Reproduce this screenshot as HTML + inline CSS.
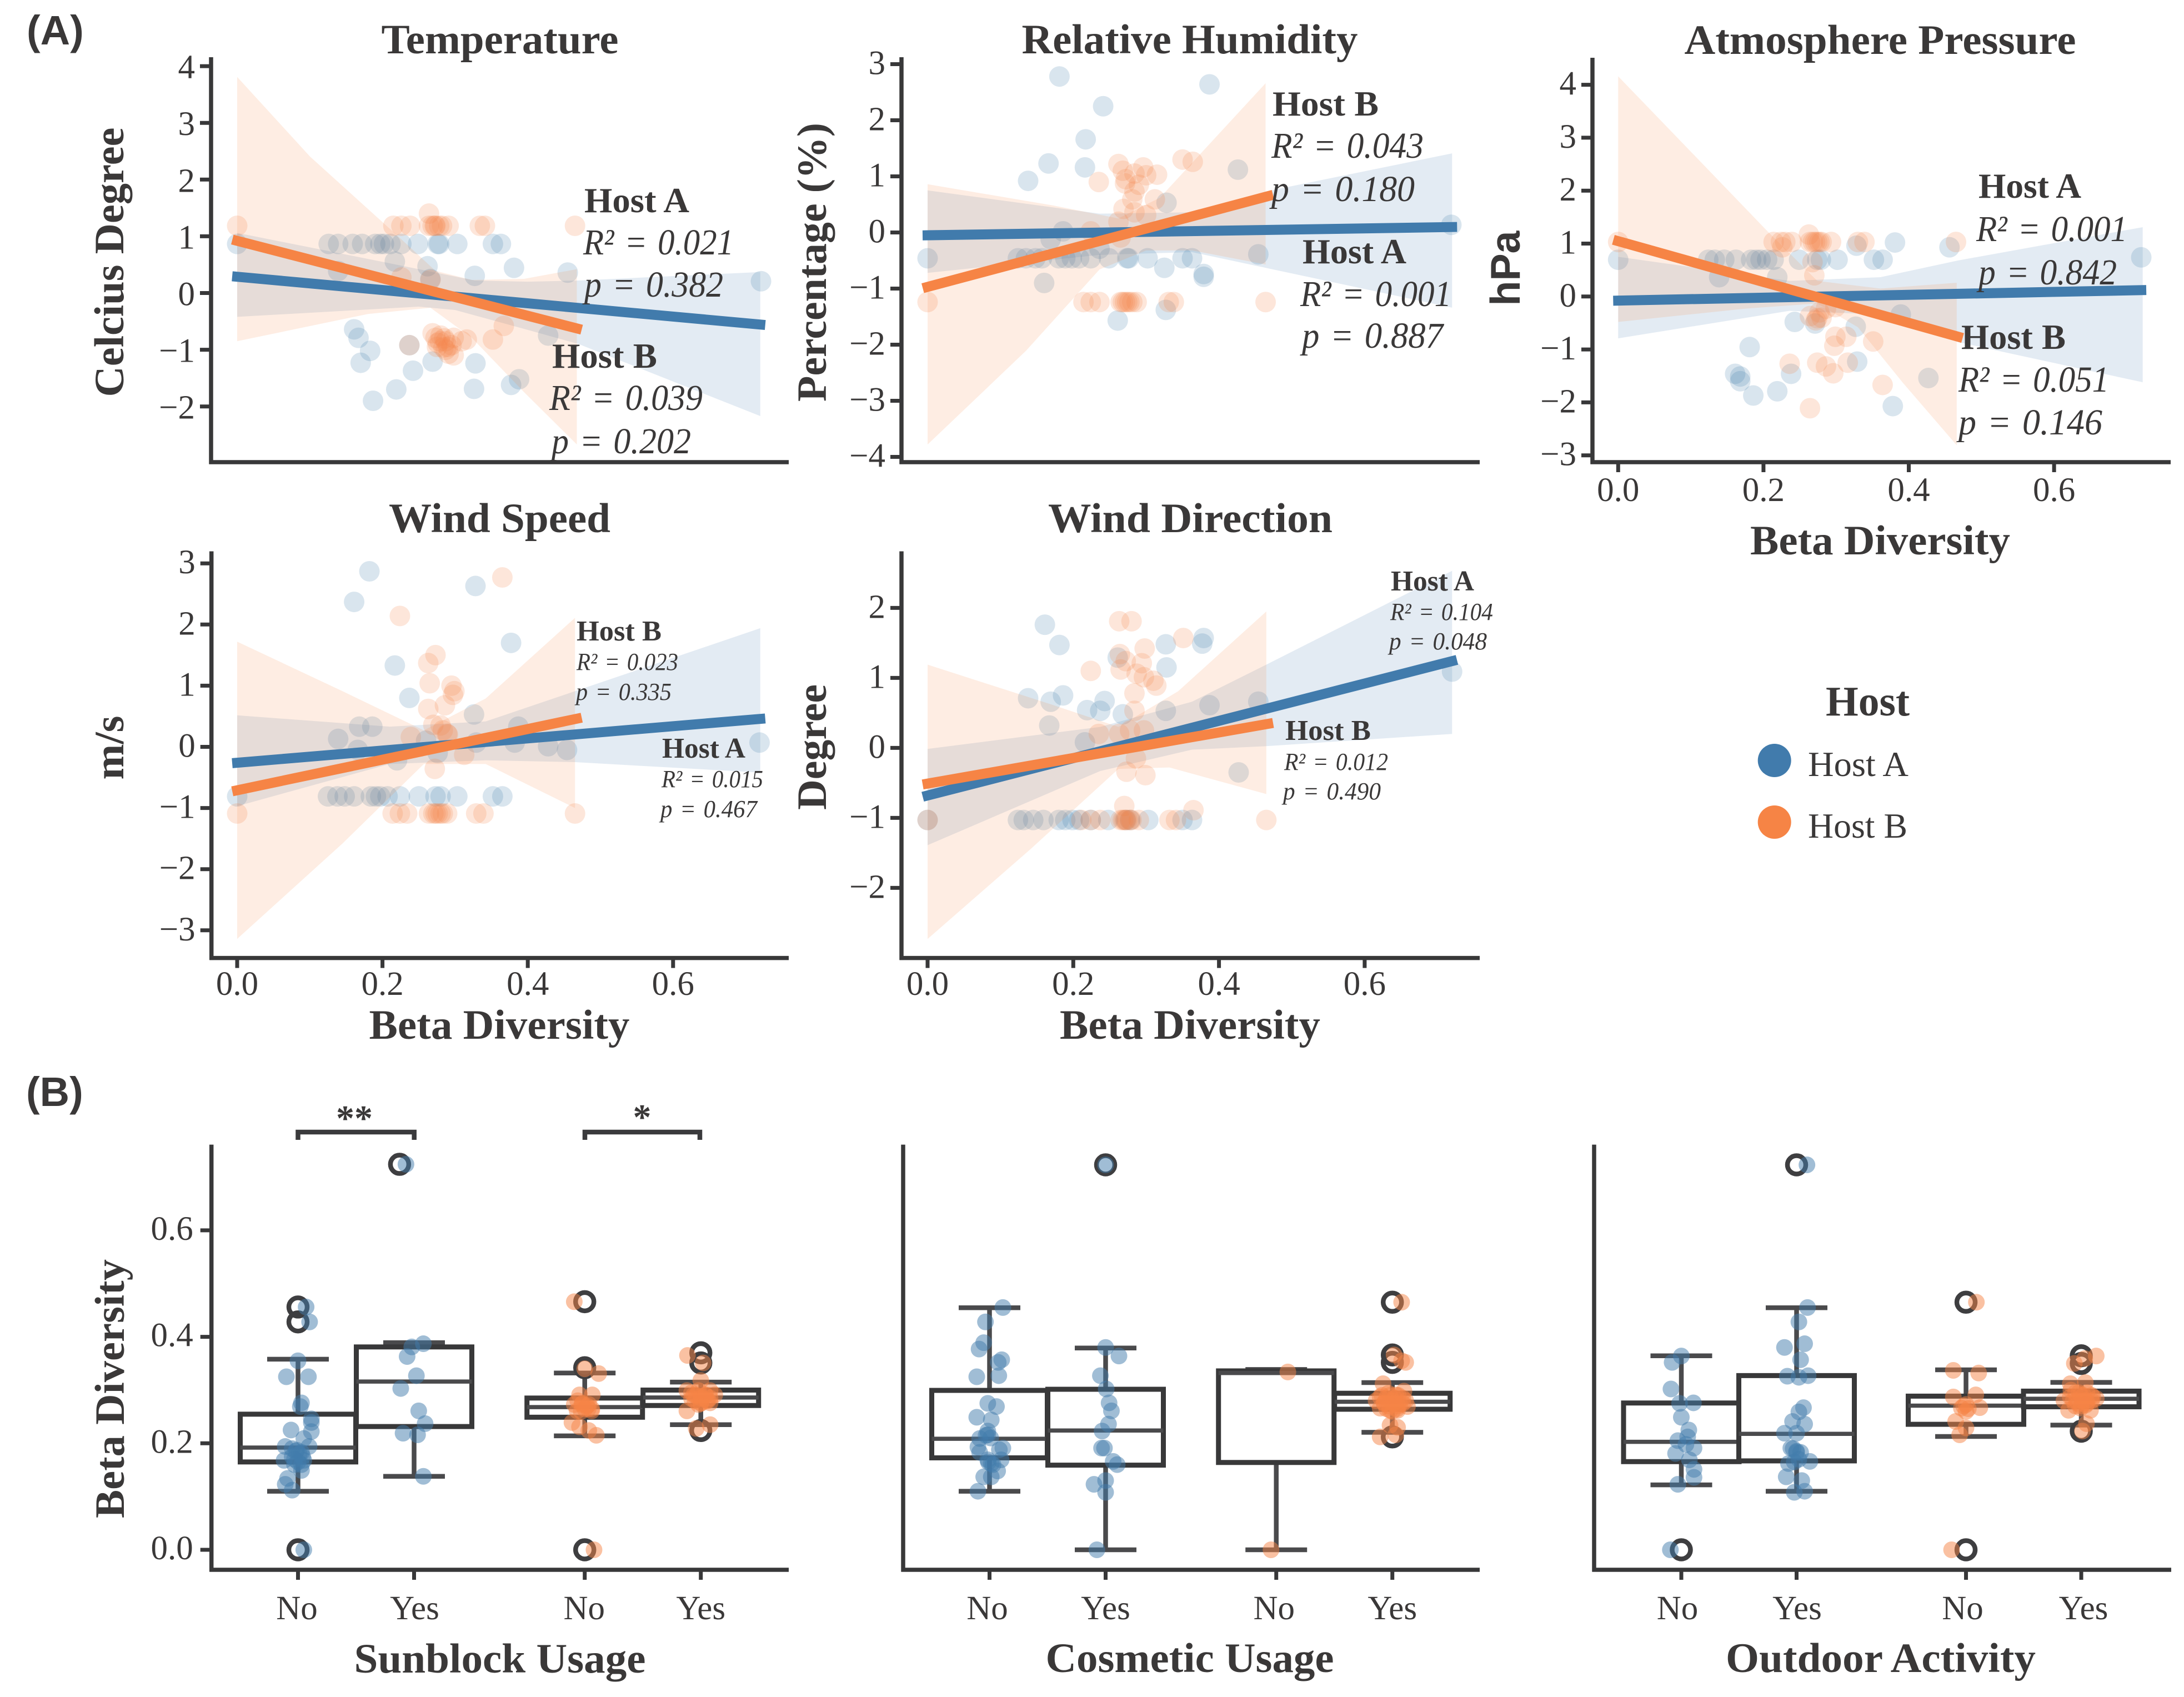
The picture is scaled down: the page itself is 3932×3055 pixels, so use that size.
<!DOCTYPE html>
<html lang="en">
<head>
<meta charset="utf-8">
<title>Beta diversity versus environment and host behaviour</title>
<style>
html,body{margin:0;padding:0;background:#fff;}
svg{display:block;font-family:"Liberation Serif",serif;}
text{fill:#3a3838;}
.title,.axlab{font-weight:700;font-size:75px;text-anchor:middle;}
.tick{font-size:61px;}
.host{font-weight:700;font-size:63px;}
.hosts{font-weight:700;font-size:52px;}
.ann{font-style:italic;font-size:66px;word-spacing:4px;}
.anns{font-style:italic;font-size:44px;word-spacing:3px;}
.panel-tag{font-family:"Liberation Sans",sans-serif;font-weight:700;font-size:74px;}
</style>
</head>
<body>
<svg id="fig" xmlns="http://www.w3.org/2000/svg" width="3932" height="3055" viewBox="0 0 3932 3055">
<rect width="3932" height="3055" fill="#fff"/>
<g id="plots"></g>

<text class="panel-tag" x="48" y="80">(A)</text>
<text class="panel-tag" x="47" y="1991">(B)</text>

<text class="title" x="900" y="96" textLength="427" lengthAdjust="spacingAndGlyphs">Temperature</text>
<text class="title" x="2142" y="96" textLength="605" lengthAdjust="spacingAndGlyphs">Relative Humidity</text>
<text class="title" x="3385" y="97" textLength="705" lengthAdjust="spacingAndGlyphs">Atmosphere Pressure</text>
<text class="title" x="899.5" y="958" textLength="399" lengthAdjust="spacingAndGlyphs">Wind Speed</text>
<text class="title" x="2143" y="958" textLength="512" lengthAdjust="spacingAndGlyphs">Wind Direction</text>

<text class="axlab" transform="translate(222,472) rotate(-90)" textLength="485" lengthAdjust="spacingAndGlyphs">Celcius Degree</text>
<text class="axlab" transform="translate(1487,472) rotate(-90)" textLength="502" lengthAdjust="spacingAndGlyphs">Percentage (%)</text>
<text class="axlab" style="font-family:'Liberation Sans',sans-serif" transform="translate(2736,483) rotate(-90)" textLength="135" lengthAdjust="spacingAndGlyphs">hPa</text>
<text class="axlab" transform="translate(222,1346) rotate(-90)" textLength="115" lengthAdjust="spacingAndGlyphs">m/s</text>
<text class="axlab" transform="translate(1487,1345) rotate(-90)" textLength="226" lengthAdjust="spacingAndGlyphs">Degree</text>
<text class="axlab" transform="translate(223,2500) rotate(-90)" textLength="466" lengthAdjust="spacingAndGlyphs">Beta Diversity</text>

<text class="axlab" x="3385" y="998" textLength="468" lengthAdjust="spacingAndGlyphs">Beta Diversity</text>
<text class="axlab" x="899" y="1870" textLength="469" lengthAdjust="spacingAndGlyphs">Beta Diversity</text>
<text class="axlab" x="2142.5" y="1870" textLength="469" lengthAdjust="spacingAndGlyphs">Beta Diversity</text>
<text class="axlab" x="900" y="3011" textLength="525" lengthAdjust="spacingAndGlyphs">Sunblock Usage</text>
<text class="axlab" x="2142" y="3010" textLength="519" lengthAdjust="spacingAndGlyphs">Cosmetic Usage</text>
<text class="axlab" x="3386" y="3010" textLength="558" lengthAdjust="spacingAndGlyphs">Outdoor Activity</text>

<g id="annotations">
<text class="host" x="1052" y="382" textLength="189" lengthAdjust="spacingAndGlyphs">Host A</text>
<text class="ann" x="1050" y="458" textLength="271" lengthAdjust="spacingAndGlyphs">R² = 0.021</text>
<text class="ann" x="1052" y="534" textLength="250" lengthAdjust="spacingAndGlyphs">p = 0.382</text>
<text class="host" x="994" y="662" textLength="189" lengthAdjust="spacingAndGlyphs">Host B</text>
<text class="ann" x="989" y="738" textLength="276" lengthAdjust="spacingAndGlyphs">R² = 0.039</text>
<text class="ann" x="993" y="816" textLength="251" lengthAdjust="spacingAndGlyphs">p = 0.202</text>

<text class="host" x="2291" y="208" textLength="191" lengthAdjust="spacingAndGlyphs">Host B</text>
<text class="ann" x="2289" y="284" textLength="274" lengthAdjust="spacingAndGlyphs">R² = 0.043</text>
<text class="ann" x="2289" y="362" textLength="258" lengthAdjust="spacingAndGlyphs">p = 0.180</text>
<text class="host" x="2345" y="474" textLength="187" lengthAdjust="spacingAndGlyphs">Host A</text>
<text class="ann" x="2341" y="551" textLength="272" lengthAdjust="spacingAndGlyphs">R² = 0.001</text>
<text class="ann" x="2344" y="626" textLength="254" lengthAdjust="spacingAndGlyphs">p = 0.887</text>

<text class="host" x="3562" y="356" textLength="185" lengthAdjust="spacingAndGlyphs">Host A</text>
<text class="ann" x="3558" y="434" textLength="272" lengthAdjust="spacingAndGlyphs">R² = 0.001</text>
<text class="ann" x="3562" y="512" textLength="249" lengthAdjust="spacingAndGlyphs">p = 0.842</text>
<text class="host" x="3531" y="628" textLength="188" lengthAdjust="spacingAndGlyphs">Host B</text>
<text class="ann" x="3526" y="705" textLength="271" lengthAdjust="spacingAndGlyphs">R² = 0.051</text>
<text class="ann" x="3526" y="782" textLength="259" lengthAdjust="spacingAndGlyphs">p = 0.146</text>

<text class="hosts" x="1038" y="1153" textLength="153" lengthAdjust="spacingAndGlyphs">Host B</text>
<text class="anns" x="1038" y="1206" textLength="183" lengthAdjust="spacingAndGlyphs">R² = 0.023</text>
<text class="anns" x="1037" y="1260" textLength="172" lengthAdjust="spacingAndGlyphs">p = 0.335</text>
<text class="hosts" x="1192" y="1364" textLength="150" lengthAdjust="spacingAndGlyphs">Host A</text>
<text class="anns" x="1191" y="1417" textLength="183" lengthAdjust="spacingAndGlyphs">R² = 0.015</text>
<text class="anns" x="1189" y="1471" textLength="174" lengthAdjust="spacingAndGlyphs">p = 0.467</text>

<text class="hosts" x="2504" y="1063" textLength="150" lengthAdjust="spacingAndGlyphs">Host A</text>
<text class="anns" x="2503" y="1116" textLength="185" lengthAdjust="spacingAndGlyphs">R² = 0.104</text>
<text class="anns" x="2501" y="1169" textLength="176" lengthAdjust="spacingAndGlyphs">p = 0.048</text>
<text class="hosts" x="2314" y="1332" textLength="154" lengthAdjust="spacingAndGlyphs">Host B</text>
<text class="anns" x="2312" y="1386" textLength="187" lengthAdjust="spacingAndGlyphs">R² = 0.012</text>
<text class="anns" x="2310" y="1439" textLength="176" lengthAdjust="spacingAndGlyphs">p = 0.490</text>
</g>

<g id="significance">
<path d="M536.5 2052V2038H745.7V2052" fill="none" stroke="#3a3a3c" stroke-width="8.5"/>
<path d="M1053 2052V2038H1260V2052" fill="none" stroke="#3a3a3c" stroke-width="8.5"/>
<text x="638" y="2035" font-size="66" font-weight="700" text-anchor="middle">**</text>
<text x="1156" y="2033" font-size="66" font-weight="700" text-anchor="middle">*</text>
</g>

<g id="legend">
<text x="3287" y="1288" font-size="76" font-weight="700" textLength="151" lengthAdjust="spacingAndGlyphs">Host</text>
<circle cx="3194.7" cy="1369" r="30" fill="#417bac"/>
<text x="3255" y="1397" font-size="64" textLength="181" lengthAdjust="spacingAndGlyphs">Host A</text>
<circle cx="3194.7" cy="1480" r="30" fill="#f68445"/>
<text x="3255" y="1508" font-size="64" textLength="179" lengthAdjust="spacingAndGlyphs">Host B</text>
</g>
</svg>

<script>
/* ---------- Panel A data ---------- */
const fitRangeA = [0, 0.72];
const fitRangeB = [0, 0.4675];

const tempTicks = [-2, -1, 0, 1, 2, 3, 4];
const tempAX = [0,.126,.139,.159,.172,.19,.197,.202,.211,.226,.249,.276,.278,.303,.352,.363,.217,.139,.262,.266,.327,.381,.455,.721,.161,.167,.183,.17,.269,.242,.328,.219,.187,.326,.377,.388,.428,.237];
const tempAY = [.865,.865,.865,.865,.865,.865,.865,.865,.865,.865,.865,.865,.865,.865,.865,.865,.556,.388,.472,.247,.303,.444,.36,.208,-.64,-.79,-1.02,-1.23,-1.21,-1.37,-1.24,-1.70,-1.9,-1.69,-1.62,-1.52,-.75,-.92];
const tempBX = [0,.215,.226,.238,.264,.269,.273,.278,.291,.334,.341,.465,.264,.226,.266,.269,.287,.273,.298,.309,.284,.291,.298,.316,.237,.352,.367,.276,.287,.28,.295,.272,.282,.279,.29,.285,.275];
const tempBY = [1.185,1.185,1.185,1.185,1.185,1.185,1.185,1.185,1.185,1.185,1.185,1.185,1.40,.275,.23,-.71,-.85,-.79,-.79,-.85,-.96,-1.07,-1.10,-.82,-.92,-.82,-.58,-.88,-1.0,-.75,-.92,1.185,1.185,-.85,-.95,-.8,-.95];
const tempFitA = [.287, -.556];
const tempFitB = [.92, -.624];
const tempAHiX = [0,.2,.327,.4,.47,.72];
const tempAHiY = [1.06,.55,.22,.2,.22,.37];
const tempALoX = [0,.25,.3,.4,.47,.72];
const tempALoY = [-.42,-.24,-.3,-.65,-.9,-2.17];
const tempBHiX = [0,.1,.219,.273,.323,.395,.4675];
const tempBHiY = [3.81,2.41,1.03,.39,.23,.25,.42];
const tempBLoX = [0,.18,.266,.323,.395,.4675];
const tempBLoY = [-.85,-.37,-.26,-.79,-1.75,-2.67];

const humTicks = [-4, -3, -2, -1, 0, 1, 2, 3];
const humAX = [0,.124,.135,.148,.157,.18,.189,.198,.208,.224,.249,.274,.276,.302,.35,.363,.181,.241,.387,.217,.166,.216,.138,.426,.328,.186,.169,.236,.454,.719,.325,.379,.379,.16,.327,.261];
const humAY = [-.46,-.46,-.46,-.46,-.46,-.46,-.46,-.46,-.46,-.46,-.46,-.46,-.46,-.46,-.46,-.46,2.78,2.25,2.64,1.66,1.23,1.16,.92,1.12,.53,.02,-.12,-.29,-.39,.136,-.63,-.74,-.79,-.9,-1.38,-1.57];
const humBX = [0,.214,.224,.236,.265,.271,.277,.287,.331,.338,.464,.262,.268,.296,.30,.315,.35,.364,.235,.271,.284,.281,.312,.269,.284,.30,.262,.224,.265,.284,.268,.274,.281,.272,.29];
const humBY = [-1.24,-1.24,-1.24,-1.24,-1.24,-1.24,-1.24,-1.24,-1.24,-1.24,-1.24,1.22,1.10,1.16,1.02,1.03,1.30,1.26,.90,.875,.73,.59,.59,.42,.36,.31,.19,.02,-.09,1.05,-1.24,-1.24,-1.24,.95,.85];
const humFitA = [-.05, .097];
const humFitB = [-.97, .648];
const humAHiX = [0,.236,.363,.464,.72];
const humAHiY = [.75,.335,.36,.73,1.41];
const humALoX = [0,.236,.363,.464,.72];
const humALoY = [-.72,-.40,-.35,-.63,-1.34];
const humBHiX = [0,.173,.262,.319,.464];
const humBHiY = [.86,.48,.25,.62,2.66];
const humBLoX = [0,.135,.236,.30,.363,.464];
const humBLoY = [-3.78,-2.11,-.66,-.32,-.32,-.57];

const presTicks = [-3, -2, -1, 0, 1, 2, 3, 4];
const presAX = [0,.124,.133,.146,.162,.183,.19,.196,.205,.214,.249,.274,.279,.302,.352,.364,.328,.381,.456,.72,.219,.139,.243,.389,.327,.271,.181,.329,.238,.161,.168,.168,.186,.219,.427,.378];
const presAY = [.695,.695,.695,.695,.695,.695,.695,.695,.695,.695,.695,.695,.695,.695,.695,.695,.96,1.02,.93,.74,.365,.365,-.48,-.34,-.57,-.51,-.955,-1.23,-1.46,-1.46,-1.51,-1.6,-1.87,-1.79,-1.54,-2.07];
const presBX = [0,.214,.224,.23,.239,.264,.271,.277,.293,.33,.339,.465,.2625,.226,.2675,.27,.264,.277,.274,.286,.299,.299,.314,.2975,.351,.236,.274,.286,.296,.316,.364,.264,.268,.274,.28,.28,.272];
const presBY = [1.03,1.03,1.03,1.03,1.03,1.03,1.03,1.03,1.03,1.03,1.03,1.03,1.17,.93,.65,.4,-.37,-.3,-.41,-.23,-.2,-.76,-.76,-.93,-.85,-1.27,-1.25,-1.32,-1.45,-1.25,-1.67,-2.11,1.03,1.03,1.03,-.4,-.45];
const presFitA = [-.077, .12];
const presFitB = [1.046, -.758];
const presAHiX = [0,.236,.361,.4675,.722];
const presAHiY = [.75,.295,.365,.68,1.31];
const presALoX = [0,.236,.361,.4675,.722];
const presALoY = [-.79,-.27,-.34,-.86,-1.62];
const presBHiX = [0,.111,.205,.274,.361,.466];
const presBHiY = [4.16,2.58,1.24,.295,.15,.26];
const presBLoX = [0,.174,.274,.33,.3925,.466];
const presBLoY = [-.48,-.23,-.13,-.58,-1.64,-2.81];

const speedTicks = [-3, -2, -1, 0, 1, 2, 3];
const speedAX = [0,.125,.138,.148,.161,.184,.191,.197,.207,.224,.25,.273,.28,.303,.352,.365,.182,.161,.328,.377,.217,.237,.326,.168,.186,.139,.166,.26,.387,.382,.329,.428,.454,.719,.22,.276];
const speedAY = [-.81,-.81,-.81,-.81,-.81,-.81,-.81,-.81,-.81,-.81,-.81,-.81,-.81,-.81,-.81,-.81,2.87,2.37,2.63,1.70,1.33,.80,.53,.33,.33,.13,-.05,.1,.33,.07,.07,.01,-.05,.07,-.22,-.1];
const speedBX = [0,.214,.224,.234,.264,.273,.28,.289,.329,.339,.465,.365,.224,.273,.263,.265,.295,.299,.297,.286,.263,.27,.283,.289,.239,.3125,.272,.276,.283,.27,.29,.28];
const speedBY = [-1.09,-1.09,-1.09,-1.09,-1.09,-1.09,-1.09,-1.09,-1.09,-1.09,-1.09,2.77,2.14,1.5,1.37,1.04,1.0,.91,.85,.68,.62,.36,.27,.21,.16,-.13,-.36,-1.09,-1.09,-1.09,.2,.35];
const speedFitA = [-.26, .457];
const speedFitB = [-.71, .46];
const speedAHiX = [0,.21,.342,.465,.72];
const speedAHiY = [.515,.33,.415,.91,1.94];
const speedALoX = [0,.21,.342,.465,.72];
const speedALoY = [-.97,-.28,-.22,-.25,-.42];
const speedBHiX = [0,.145,.257,.342,.465];
const speedBHiY = [1.72,.91,.27,.79,2.11];
const speedBLoX = [0,.145,.257,.342,.465];
const speedBLoY = [-3.14,-1.58,-.28,-.28,-1.0];

const dirTicks = [-2, -1, 0, 1, 2];
const dirAX = [0,.124,.132,.145,.159,.18,.189,.199,.208,.224,.248,.272,.278,.303,.35,.363,.161,.181,.379,.377,.327,.261,.328,.138,.169,.186,.243,.219,.237,.268,.327,.387,.454,.167,.216,.72,.427];
const dirAY = [-1.03,-1.03,-1.03,-1.03,-1.03,-1.03,-1.03,-1.03,-1.03,-1.03,-1.03,-1.03,-1.03,-1.03,-1.03,-1.03,1.76,1.47,1.57,1.49,1.48,1.29,1.15,.71,.66,.75,.67,.54,.53,.48,.53,.61,.66,.32,.08,1.09,-.35];
const dirBX = [0,.211,.224,.237,.265,.272,.278,.29,.332,.341,.465,.263,.28,.351,.298,.264,.224,.265,.272,.294,.287,.297,.314,.31,.284,.284,.235,.263,.278,.297,.286,.273,.299,.27,.365,.268,.274,.28,.27];
const dirBY = [-1.03,-1.03,-1.03,-1.03,-1.03,-1.03,-1.03,-1.03,-1.03,-1.03,-1.03,1.81,1.81,1.57,1.42,1.34,1.10,1.12,1.24,1.21,1.06,1.01,.89,.96,.78,.53,.2,.2,.25,.25,-.15,-.34,-.39,-.83,-.89,-1.03,-1.03,-1.03,-1.03];
const dirFitA = [-.68, 1.24];
const dirFitB = [-.51, .344];
const dirAHiX = [0,.237,.363,.465,.72];
const dirAHiY = [-.015,.3,.66,1.19,2.53];
const dirALoX = [0,.237,.363,.465,.72];
const dirALoY = [-1.39,-.33,-.025,.025,.2];
const dirBHiX = [0,.173,.262,.344,.465];
const dirBHiY = [1.19,.61,.3,.81,1.95];
const dirBLoX = [0,.142,.262,.332,.465];
const dirBLoY = [-2.73,-1.44,-.3,-.28,-.66];

const betaTicks = [0, 0.2, 0.4, 0.6];
const betaTickLabels = ['0.0', '0.2', '0.4', '0.6'];

/* ---------- Panel B data ---------- */
const boxCategories = ['No', 'Yes', 'No', 'Yes'];
const boxCategoryPos = [0, 1, 2.47, 3.47];

const sunQ1 = [.165,.2315,.249,.271];
const sunMed = [.192,.316,.268,.286];
const sunQ3 = [.2547,.381,.285,.30];
const sunLo = [.11,.138,.214,.235];
const sunHi = [.358,.389,.332,.315];
const sunOutliers = [[0,.428,.456],[.724],[0,.342,.466],[.224,.351,.37]];
const sunOutlierShift = [[0,0,0],[-.125],[0,0,0],[0,0,0]];
const sunJitter = [
 [0,-.10,.09,.03,.02,.115,.115,-.06,.115,.05,.095,-.11,-.01,-.05,.03,-.12,-.03,.05,.03,-.09,-.11,-.05,.07,.10,.05,-.05,-.02,.01,.04,-.03,0,.03],
 [.08,-.02,-.06,.02,-.115,.04,.095,-.095,.03,.08,-.07],
 [-.09,0,.12,.065,-.045,-.025,.035,-.09,0,-.065,.06,-.11,-.045,.035,.10,.08,-.06,-.02,.02,.06,-.03,.03],
 [-.115,.02,0,-.12,-.02,.08,0,.12,-.08,.06,0,-.12,-.02,.08,-.04,.08,-.06,.04,-.08,-.04,0,.04,.08,-.05,0,.05]
];
const sunPoints = [
 [.355,.325,.325,.276,.269,.246,.239,.225,.222,.209,.194,.194,.187,.175,.183,.168,.16,.168,.149,.134,.123,.112,.456,.428,0,.19,.185,.18,.175,.17,.165,.16],
 [.387,.381,.363,.327,.303,.261,.237,.219,.216,.138,.724],
 [.466,.34,.331,.291,.291,.273,.273,.273,.265,.261,.261,.239,.231,.224,.215,0,.28,.275,.27,.265,.26,.265],
 [.365,.351,.318,.299,.299,.299,.288,.291,.284,.28,.276,.261,.273,.235,.228,.276,.291,.291,.295,.29,.285,.29,.285,.28,.275,.28]
];

const cosQ1 = [.1727,.159,.164,.264];
const cosMed = [.2085,.224,.332,.278];
const cosQ3 = [.2994,.3015,.336,.294];
const cosLo = [.11,0,0,.2206];
const cosHi = [.4546,.379,.3387,.314];
const cosOutliers = [[],[.723],[],[.212,.352,.366,.465]];
const cosJitter = [
 [.115,-.035,-.05,-.09,.105,.075,-.11,.08,-.015,.06,-.11,.015,-.015,-.015,-.085,-.10,.115,.085,-.085,-.015,.015,.10,.07,.015,-.05,-.10,-.03,.01,-.01,.03],
 [0,0,.115,-.045,.005,.03,.05,.025,-.03,-.035,-.01,.065,.10,0,-.10,0,-.075],
 [.10,-.045],
 [.08,.015,.115,.08,-.08,.10,-.105,-.035,.03,.115,-.14,-.07,0,.065,.13,-.105,-.02,.045,.045,-.02,.03,-.105,-.09,-.05,-.02,.02,.05,.09,-.07,-.03,.01,.05,.09,-.05,0,.04]
];
const cosPoints = [
 [.455,.428,.389,.377,.357,.352,.325,.327,.275,.269,.249,.244,.223,.216,.209,.193,.191,.188,.183,.169,.162,.169,.148,.137,.137,.11,.215,.21,.165,.16],
 [.723,.38,.364,.327,.302,.276,.261,.236,.223,.191,.191,.166,.16,.13,.123,.108,0],
 [.334,0],
 [.465,.366,.352,.355,.312,.298,.287,.294,.291,.28,.28,.276,.28,.273,.269,.266,.262,.262,.23,.234,.216,.212,.29,.285,.29,.285,.29,.285,.275,.27,.275,.27,.275,.265,.26,.265]
];

const outQ1 = [.1656,.167,.2357,.2686];
const outMed = [.2028,.2178,.2707,.2836];
const outQ3 = [.2757,.3272,.2886,.298];
const outLo = [.122,.11,.2128,.2342];
const outHi = [.3644,.4546,.338,.3144];
const outOutliers = [[0],[.723],[0,.465],[.2228,.35,.3644]];
const outJitter = [
 [0,-.08,-.09,-.015,.105,0,.065,.055,-.03,.04,.11,-.05,.07,.11,.11,-.03,-.095],
 [.09,.095,.02,.07,-.105,.035,-.08,.10,.02,.06,.02,-.035,.07,-.105,0,-.05,0,.035,.115,-.07,-.09,.045,.07,-.02,-.03,0,.02,-.02],
 [.09,-.11,.11,-.11,.085,0,-.04,.12,-.09,0,-.055,-.125,-.02,.02,0],
 [.13,-.06,.03,-.095,.035,-.095,-.005,.10,-.15,-.04,.045,.13,-.11,-.005,.08,.01,.045,-.09,-.05,-.02,.02,.05,.09,-.07,-.03,.01,.05,.09,-.05,0,.04]
];
const outPoints = [
 [.364,.352,.302,.275,.276,.249,.225,.212,.205,.198,.191,.181,.169,.151,.136,.123,0],
 [.723,.455,.428,.387,.38,.357,.326,.327,.324,.267,.259,.241,.236,.219,.219,.191,.183,.183,.166,.162,.137,.13,.11,.108,.19,.185,.17,.165],
 [.465,.337,.332,.287,.291,.273,.266,.267,.241,.229,.216,0,.27,.265,.26],
 [.364,.35,.359,.312,.314,.287,.291,.287,.28,.28,.28,.284,.262,.266,.262,.223,.237,.30,.295,.295,.29,.295,.29,.28,.275,.28,.275,.28,.27,.27,.272]
];

/* ---------- Style and geometry (not data) ---------- */
const SVGNS = 'http://www.w3.org/2000/svg';
const INK = '#383839';
const WHISK = '#4a4a4c';
const BLUE = '#417bac';
const ORANGE = '#f68445';
const plots = document.getElementById('plots');

function make(tag, parent, attrs) {
  const el = document.createElementNS(SVGNS, tag);
  for (const k in attrs) el.setAttribute(k, attrs[k]);
  parent.appendChild(el);
  return el;
}
function fmtTick(v) {
  return (v < 0 ? '\u2212' : '') + Math.abs(v);
}

function drawAxes(g, p) {
  const left = make('line', g, {x1: p.left, x2: p.left, y1: p.top, y2: p.bottom + 3.5, stroke: INK, 'stroke-width': 7.5});
  
  
  const bottom = make('line', g, {x1: p.left - 3.5, x2: p.right, y1: p.bottom, y2: p.bottom, stroke: INK, 'stroke-width': 7.5});
  
  
}

function drawScatterGroup(g, p, xs, ys, hiX, hiY, loX, loY, color, hostName) {
  const sx = v => p.x0 + p.xPer * v;
  const sy = v => p.y0 - p.yPer * v;
  xs.forEach((x, i) => {
    const dot = make('circle', g, {cx: sx(x), cy: sy(ys[i]), r: 18.5, fill: color, 'fill-opacity': 0.2});
    
    
  });
  const upper = hiX.map((x, i) => sx(x) + ',' + sy(hiY[i]));
  const lower = loX.map((x, i) => sx(x) + ',' + sy(loY[i])).reverse();
  const band = make('polygon', g, {points: upper.concat(lower).join(' '), fill: color, 'fill-opacity': 0.15});
  
  
}

function drawFitLine(g, p, fit, range, color, hostName) {
  const sx = v => p.x0 + p.xPer * v;
  const sy = v => p.y0 - p.yPer * v;
  const line = make('line', g, {x1: sx(range[0]), y1: sy(fit[0]), x2: sx(range[1]), y2: sy(fit[1]), stroke: color, 'stroke-width': 18, 'stroke-linecap': 'square'});
  
  
}

function drawScatterPanel(p) {
  const g = make('g', plots, {});
  
  
  drawScatterGroup(g, p, p.ax, p.ay, p.aHiX, p.aHiY, p.aLoX, p.aLoY, BLUE, 'host-a');
  drawScatterGroup(g, p, p.bx, p.by, p.bHiX, p.bHiY, p.bLoX, p.bLoY, ORANGE, 'host-b');
  drawFitLine(g, p, p.fitA, fitRangeA, BLUE, 'host-a');
  drawFitLine(g, p, p.fitB, fitRangeB, ORANGE, 'host-b');
  drawAxes(g, p);
  p.yTicks.forEach(v => {
    const y = p.y0 - p.yPer * v;
    const tick = make('line', g, {x1: p.left - 20, x2: p.left, y1: y, y2: y, stroke: INK, 'stroke-width': 7});
    
    
    const label = make('text', g, {x: p.left - 29, y: y + p.labelDy, 'text-anchor': 'end', class: 'tick'});
    
    
    label.textContent = fmtTick(v);
  });
  if (p.xLabelY) {
    betaTicks.forEach((v, i) => {
      const x = p.x0 + p.xPer * v;
      const tick = make('line', g, {x1: x, x2: x, y1: p.bottom, y2: p.bottom + 18, stroke: INK, 'stroke-width': 7});
      
      
      const label = make('text', g, {x: x, y: p.xLabelY, 'text-anchor': 'middle', class: 'tick'});
      
      
      label.textContent = betaTickLabels[i];
    });
  }
}

function drawBoxPanel(p) {
  const g = make('g', plots, {});
  
  
  const sx = c => p.x0 + p.unit * c;
  const sy = v => 2790 - 958.5 * v;
  boxCategoryPos.forEach((c, i) => {
    const cx = sx(c);
    const hostColor = i < 2 ? BLUE : ORANGE;
    const capHalf = 55.5, boxHalf = 104;
    const whisker = make('line', g, {x1: cx, x2: cx, y1: sy(p.hi[i]), y2: sy(p.lo[i]), stroke: WHISK, 'stroke-width': 8.5});
    
    
    const capHi = make('line', g, {x1: cx - capHalf, x2: cx + capHalf, y1: sy(p.hi[i]), y2: sy(p.hi[i]), stroke: WHISK, 'stroke-width': 8.5});
    
    
    const capLo = make('line', g, {x1: cx - capHalf, x2: cx + capHalf, y1: sy(p.lo[i]), y2: sy(p.lo[i]), stroke: WHISK, 'stroke-width': 8.5});
    
    
    const rect = make('rect', g, {x: cx - boxHalf, width: boxHalf * 2, y: sy(p.q3[i]), height: sy(p.q1[i]) - sy(p.q3[i]), fill: '#fff', stroke: INK, 'stroke-width': 9});
    
    
    const med = make('line', g, {x1: cx - boxHalf, x2: cx + boxHalf, y1: sy(p.med[i]), y2: sy(p.med[i]), stroke: WHISK, 'stroke-width': 7.5});
    
    
    p.out[i].forEach((v, k) => {
      const shift = p.outShift ? p.outShift[i][k] : 0;
      const ring = make('circle', g, {cx: sx(c + shift), cy: sy(v), r: 16.5, fill: 'none', stroke: '#3e3e40', 'stroke-width': 8.5});
      
      
    });
    p.points[i].forEach((v, k) => {
      const dot = make('circle', g, {cx: sx(c + p.jitter[i][k]), cy: sy(v), r: 15, fill: hostColor, 'fill-opacity': 0.5});
      
      
    });
    const tick = make('line', g, {x1: cx, x2: cx, y1: p.bottom, y2: p.bottom + 18, stroke: INK, 'stroke-width': 7});
    
    
    const label = make('text', g, {x: cx + p.labelNudge[i], y: 2915, 'text-anchor': 'middle', class: 'tick', 'font-size': 63});
    
    
    label.textContent = boxCategories[i];
  });
  drawAxes(g, p);
  if (p.showY) {
    betaTicks.forEach((v, i) => {
      const y = sy(v);
      const tick = make('line', g, {x1: p.left - 20, x2: p.left, y1: y, y2: y, stroke: INK, 'stroke-width': 7});
      
      
      const label = make('text', g, {x: p.left - 33, y: y + 17, 'text-anchor': 'end', class: 'tick'});
      
      
      label.textContent = betaTickLabels[i];
    });
  }
}

drawScatterPanel({name:'temperature', left:380, right:1420, top:103, bottom:832, x0:427, xPer:1308, y0:527.5, yPer:102.1, labelDy:22, yTicks:tempTicks,
  ax:tempAX, ay:tempAY, bx:tempBX, by:tempBY, fitA:tempFitA, fitB:tempFitB,
  aHiX:tempAHiX, aHiY:tempAHiY, aLoX:tempALoX, aLoY:tempALoY, bHiX:tempBHiX, bHiY:tempBHiY, bLoX:tempBLoX, bLoY:tempBLoY});
drawScatterPanel({name:'humidity', left:1623, right:2664, top:103, bottom:832, x0:1670, xPer:1311.5, y0:418.5, yPer:101, labelDy:18, yTicks:humTicks,
  ax:humAX, ay:humAY, bx:humBX, by:humBY, fitA:humFitA, fitB:humFitB,
  aHiX:humAHiX, aHiY:humAHiY, aLoX:humALoX, aLoY:humALoY, bHiX:humBHiX, bHiY:humBHiY, bLoX:humBLoX, bLoY:humBLoY});
drawScatterPanel({name:'pressure', left:2867, right:3908, top:104, bottom:832, x0:2913.3, xPer:1308, y0:533.8, yPer:95.3, labelDy:18, yTicks:presTicks, xLabelY:902,
  ax:presAX, ay:presAY, bx:presBX, by:presBY, fitA:presFitA, fitB:presFitB,
  aHiX:presAHiX, aHiY:presAHiY, aLoX:presALoX, aLoY:presALoY, bHiX:presBHiX, bHiY:presBHiY, bLoX:presBLoX, bLoY:presBLoY});
drawScatterPanel({name:'wind-speed', left:380.7, right:1420, top:992.5, bottom:1724.6, x0:427, xPer:1308, y0:1344.5, yPer:110.1, labelDy:18, yTicks:speedTicks, xLabelY:1791,
  ax:speedAX, ay:speedAY, bx:speedBX, by:speedBY, fitA:speedFitA, fitB:speedFitB,
  aHiX:speedAHiX, aHiY:speedAHiY, aLoX:speedALoX, aLoY:speedALoY, bHiX:speedBHiX, bHiY:speedBHiY, bLoX:speedBLoX, bLoY:speedBLoY});
drawScatterPanel({name:'wind-direction', left:1623, right:2664, top:992.5, bottom:1724.6, x0:1670, xPer:1311.5, y0:1346.4, yPer:126, labelDy:18, yTicks:dirTicks, xLabelY:1791,
  ax:dirAX, ay:dirAY, bx:dirBX, by:dirBY, fitA:dirFitA, fitB:dirFitB,
  aHiX:dirAHiX, aHiY:dirAHiY, aLoX:dirALoX, aLoY:dirALoY, bHiX:dirBHiX, bHiY:dirBHiY, bLoX:dirBLoX, bLoY:dirBLoY});

drawBoxPanel({name:'sunblock', left:380.7, right:1420, top:2060.6, bottom:2826, x0:536.5, unit:209, showY:true, labelNudge:[-2,1,-1,0],
  q1:sunQ1, med:sunMed, q3:sunQ3, lo:sunLo, hi:sunHi, out:sunOutliers, outShift:sunOutlierShift, points:sunPoints, jitter:sunJitter});
drawBoxPanel({name:'cosmetic', left:1626, right:2664, top:2060.6, bottom:2826, x0:1781.5, unit:209, showY:false, labelNudge:[-4,0,-4,0],
  q1:cosQ1, med:cosMed, q3:cosQ3, lo:cosLo, hi:cosHi, out:cosOutliers, points:cosPoints, jitter:cosJitter});
drawBoxPanel({name:'outdoor', left:2870, right:3909, top:2060.6, bottom:2826, x0:3027, unit:207.5, showY:false, labelNudge:[-7,1,-6,4],
  q1:outQ1, med:outMed, q3:outQ3, lo:outLo, hi:outHi, out:outOutliers, points:outPoints, jitter:outJitter});
</script>
</body>
</html>
